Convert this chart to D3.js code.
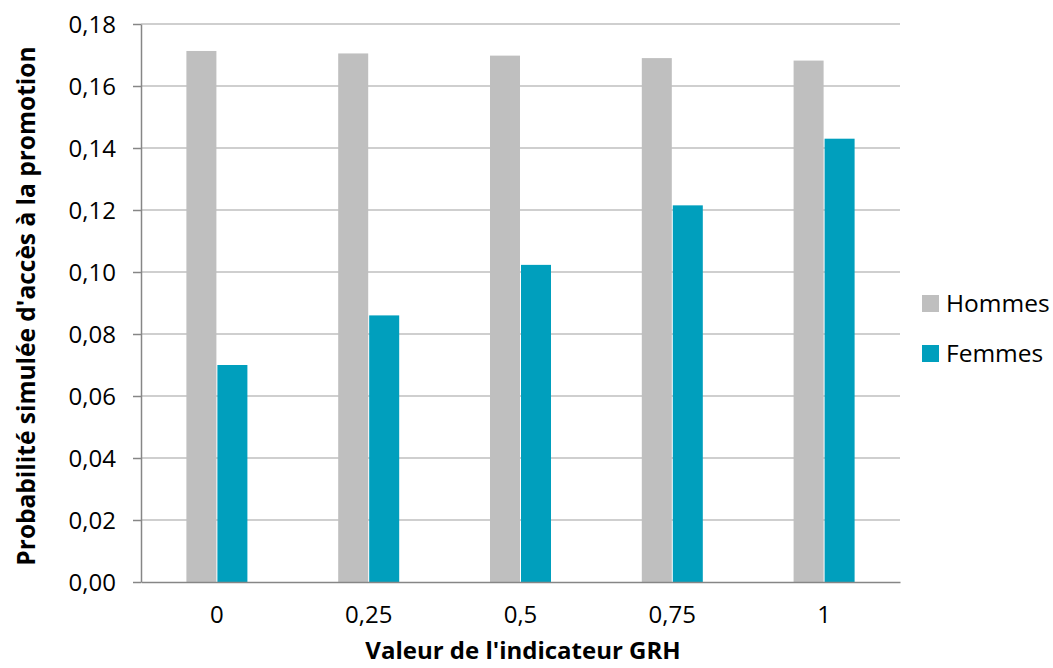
<!DOCTYPE html>
<html>
<head>
<meta charset="utf-8">
<script src="https://cdn.jsdelivr.net/npm/d3@7"></script>
<style>
  html, body { margin: 0; padding: 0; background: #fff; }
  svg { display: block; font-family: "Open Sans", sans-serif; }
</style>
</head>
<body>
<svg id="chart" width="1053" height="668"></svg>
<script>
const categories = ["0", "0,25", "0,5", "0,75", "1"];
const seriesNames = ["Hommes", "Femmes"];
const hommes = [0.1713, 0.1705, 0.1698, 0.1690, 0.1682];
const femmes = [0.0700, 0.0860, 0.1023, 0.1215, 0.1430];
const yTicks = [0, 0.02, 0.04, 0.06, 0.08, 0.10, 0.12, 0.14, 0.16, 0.18];
const yTickLabels = ["0,00", "0,02", "0,04", "0,06", "0,08", "0,10", "0,12", "0,14", "0,16", "0,18"];
const colors = ["#BFBFBF", "#009FBD"];
const yTitle = "Probabilité simulée d'accès à la promotion";
const xTitle = "Valeur de l'indicateur GRH";

const svg = d3.select("#chart");
const plotLeft = 141, plotRight = 900, plotTop = 24, plotBottom = 582;

const x0 = d3.scaleBand().domain(categories).range([plotLeft, plotRight]).padding(0);
const barW = 30.5;
const x1 = d3.scaleBand().domain(seriesNames)
  .range([x0.bandwidth() / 2 - barW, x0.bandwidth() / 2 + barW]).padding(0);
const y = d3.scaleLinear().domain([0, 0.18]).range([plotBottom, plotTop]);

// gridlines
svg.append("g").selectAll("line").data(yTicks.filter(d => d > 0)).join("line")
  .attr("x1", plotLeft).attr("x2", plotRight)
  .attr("y1", d => y(d)).attr("y2", d => y(d))
  .attr("stroke", "#a0a0a0").attr("stroke-width", 1.2);

// bars
const data = categories.map((c, i) => ({ c, vals: [hommes[i], femmes[i]] }));
const groups = svg.append("g").selectAll("g").data(data).join("g")
  .attr("transform", d => `translate(${x0(d.c)},0)`);
groups.selectAll("rect").data(d => d.vals.map((v, j) => ({ v, s: seriesNames[j], j })))
  .join("rect")
  .attr("x", d => x1(d.s) + (d.j === 1 ? 0.5 : 0))
  .attr("width", d => x1.bandwidth() - 0.5)
  .attr("y", d => y(d.v))
  .attr("height", d => y(0) - y(d.v))
  .attr("fill", d => colors[d.j]);

// y axis
const yAxis = d3.axisLeft(y).tickValues(yTicks)
  .tickFormat((d, i) => yTickLabels[i]).tickSize(8).tickSizeOuter(0);
const gy = svg.append("g").attr("transform", `translate(${plotLeft},0)`).call(yAxis);
gy.select(".domain").attr("stroke", "#868686").attr("stroke-width", 1.5);
gy.selectAll(".tick line").attr("stroke", "#868686").attr("stroke-width", 1.5);
gy.selectAll(".tick text").attr("x", -25).attr("dy", "0.34em")
  .attr("font-size", 24).attr("fill", "#000").attr("font-family", "Open Sans");

// x axis
const xAxis = d3.axisBottom(x0).tickSize(0).tickSizeOuter(0);
const gx = svg.append("g").attr("transform", `translate(0,${plotBottom})`).call(xAxis);
gx.select(".domain").attr("stroke", "#868686").attr("stroke-width", 1.5);
gx.selectAll(".tick text").attr("y", 33).attr("dy", "0.34em")
  .attr("font-size", 24).attr("fill", "#000").attr("font-family", "Open Sans");

// titles
svg.append("text").attr("x", 523).attr("y", 659)
  .attr("text-anchor", "middle").attr("font-weight", "bold").attr("font-size", 24)
  .text(xTitle);
svg.append("text").attr("transform", `translate(35,${306}) rotate(-90)`)
  .attr("text-anchor", "middle").attr("font-weight", "bold").attr("font-size", 24.5)
  .text(yTitle);

// legend
const lg = svg.append("g").selectAll("g").data(seriesNames).join("g")
  .attr("transform", (d, i) => `translate(922,${295 + i * 50})`);
lg.append("rect").attr("width", 17).attr("height", 17).attr("fill", (d, i) => colors[i]);
lg.append("text").attr("x", 24).attr("y", 17).attr("font-size", 24.5).attr("fill", "#000").text(d => d);
</script>
</body>
</html>
